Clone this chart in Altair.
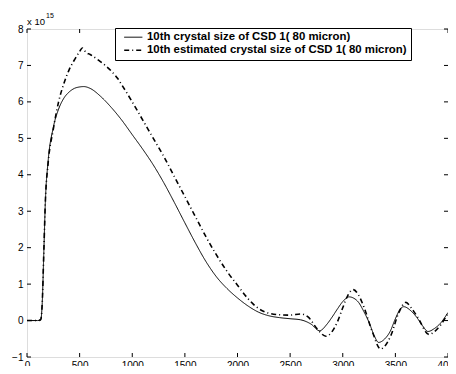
import altair as alt
import pandas as pd

# ---- data ----
solid_x = [0, 100, 130, 145, 160, 175, 200, 250, 300, 350, 400, 450, 500, 540, 600,
           700, 800, 900, 1000, 1100, 1200, 1300, 1400, 1500, 1600, 1700, 1800, 1900,
           2000, 2100, 2200, 2300, 2400, 2500, 2600, 2700, 2780, 2850, 2900, 2950, 3000,
           3060, 3100, 3150, 3200, 3250, 3300, 3340, 3400, 3450, 3500, 3550, 3580, 3650,
           3700, 3760, 3810, 3870, 3920, 4000]
solid_y = [0, 0, 0.02, 0.5, 1.9, 3.3, 4.35, 5.3, 5.8, 6.1, 6.27, 6.37, 6.41, 6.42, 6.37,
           6.15, 5.85, 5.5, 5.1, 4.7, 4.27, 3.78, 3.24, 2.68, 2.13, 1.62, 1.2, 0.88,
           0.62, 0.4, 0.23, 0.13, 0.08, 0.05, 0.02, -0.1, -0.28, -0.1, 0.1, 0.32, 0.52,
           0.65, 0.62, 0.5, 0.25, -0.05, -0.42, -0.6, -0.5, -0.3, 0.05, 0.33, 0.38, 0.26,
           0.1, -0.15, -0.3, -0.22, -0.1, 0.22]

est_x = [0, 100, 130, 145, 160, 175, 200, 250, 300, 350, 400, 450, 500, 525, 560, 600,
         700, 800, 862, 900, 1000, 1100, 1200, 1300, 1400, 1500, 1600, 1700, 1800, 1900,
         2000, 2100, 2200, 2300, 2400, 2500, 2600, 2670, 2760, 2840, 2950, 3000, 3050,
         3100, 3150, 3200, 3280, 3360, 3400, 3460, 3530, 3600, 3650, 3710, 3820, 3850,
         3930, 4000]
est_y = [0, 0, 0.02, 0.5, 1.9, 3.3, 4.3, 5.25, 6.0, 6.5, 6.88, 7.15, 7.38, 7.48, 7.36, 7.3,
         7.1, 6.85, 6.64, 6.47, 6.0, 5.5, 5.0, 4.5, 3.95, 3.4, 2.85, 2.3, 1.8, 1.35,
         0.97, 0.6, 0.33, 0.2, 0.16, 0.15, 0.18, 0.1, -0.24, -0.43, -0.03, 0.35, 0.7,
         0.85, 0.7, 0.38, -0.3, -0.78, -0.7, -0.39, 0.2, 0.5, 0.35, 0.1, -0.38, -0.35,
         -0.12, 0.2]

series_names = ["10th crystal size of CSD 1( 80 micron)",
                "10th estimated crystal size of CSD 1( 80 micron)"]

x_ticks = [0, 500, 1000, 1500, 2000, 2500, 3000, 3500, 4000]
y_ticks = [-1, 0, 1, 2, 3, 4, 5, 6, 7, 8]

W, H = 421, 328
FONT = "Liberation Sans"

df = pd.concat([
    pd.DataFrame({"x": solid_x, "y": solid_y, "s": series_names[0], "o": range(len(solid_x))}),
    pd.DataFrame({"x": est_x, "y": est_y, "s": series_names[1], "o": range(len(est_x))}),
])

xs = alt.Scale(domain=[0, 4000], nice=False, zero=False)
ys = alt.Scale(domain=[-1, 8], nice=False, zero=False)
xa = alt.Axis(values=x_ticks, format="d", labelFontSize=10, labelPadding=3, ticks=False,
              domain=False, grid=False, title=None, labelFont=FONT, labelColor="black",
              labelFlush=False)
ya = alt.Axis(values=y_ticks, format="d", labelFontSize=10, labelPadding=4, ticks=False,
              domain=False, grid=False, title=None, labelFont=FONT, labelColor="black")

leg = alt.Legend(orient="none", legendX=88, legendY=-1, title=None, direction="vertical",
                 labelFont=FONT, labelFontSize=11.4, labelFontWeight="bold", labelColor="black",
                 symbolType="M-2.6,0H2.6", symbolSize=49, symbolOffset=9.1, labelOffset=8,
                 padding=3.5, rowPadding=0, strokeColor="black", fillColor="white",
                 labelLimit=400)

lines = alt.Chart(df).mark_line(interpolate="monotone").encode(
    x=alt.X("x:Q", scale=xs, axis=xa),
    y=alt.Y("y:Q", scale=ys, axis=ya),
    order="o:Q",
    color=alt.Color("s:N", scale=alt.Scale(domain=series_names, range=["black", "black"]), legend=leg),
    strokeDash=alt.StrokeDash("s:N", scale=alt.Scale(domain=series_names, range=[[1, 0], [5, 3, 1, 3]]), legend=leg),
    strokeWidth=alt.StrokeWidth("s:N", scale=alt.Scale(domain=series_names, range=[1, 1.6]), legend=leg),
)

xt = pd.DataFrame({"v": x_ticks})
yt = pd.DataFrame({"v": y_ticks})
tick_bottom = alt.Chart(xt).mark_rule(color="black").encode(
    x=alt.X("v:Q", scale=xs, axis=xa), y=alt.value(H), y2=alt.value(H - 4))
tick_top = alt.Chart(xt).mark_rule(color="black").encode(
    x=alt.X("v:Q", scale=xs, axis=xa), y=alt.value(0), y2=alt.value(4))
tick_left = alt.Chart(yt).mark_rule(color="black").encode(
    y=alt.Y("v:Q", scale=ys, axis=ya), x=alt.value(0), x2=alt.value(4))
tick_right = alt.Chart(yt).mark_rule(color="black").encode(
    y=alt.Y("v:Q", scale=ys, axis=ya), x=alt.value(W), x2=alt.value(W - 4))

exp_base = alt.Chart(pd.DataFrame({"t": ["x 10"]})).mark_text(
    align="left", baseline="alphabetic", fontSize=9.5, font=FONT, color="black").encode(
    x=alt.value(0), y=alt.value(-4), text="t:N")
exp_sup = alt.Chart(pd.DataFrame({"t": ["15"]})).mark_text(
    align="left", baseline="alphabetic", fontSize=7, font=FONT, color="black").encode(
    x=alt.value(19), y=alt.value(-11), text="t:N")

chart = alt.layer(lines, tick_bottom, tick_top, tick_left, tick_right, exp_base, exp_sup).properties(
    width=W, height=H,
    autosize=alt.AutoSizeParams(type="none"),
    padding={"left": 19, "top": 21, "right": 0, "bottom": 9},
).configure_view(stroke="black", strokeWidth=1).configure(background="white")

chart.save("out.html", embed_options={"renderer": "svg", "actions": False})
